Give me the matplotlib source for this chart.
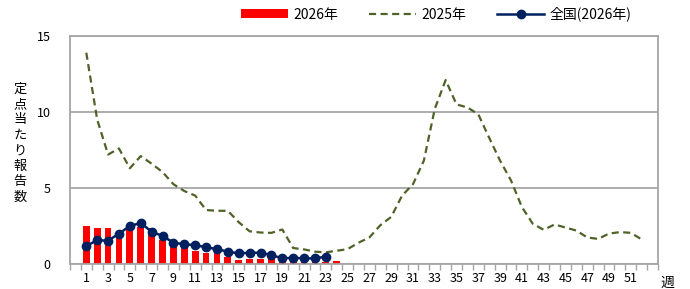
import numpy as np
import matplotlib
matplotlib.use('Agg')
import matplotlib.pyplot as plt
from matplotlib.ticker import FixedLocator

plt.rcParams['font.family'] = ['Noto Sans CJK JP', 'DejaVu Sans']

# 週
weeks_2025 = list(range(1, 53))
vals_2025 = [13.9, 9.5, 7.2, 7.6, 6.3, 7.1, 6.6, 6.05, 5.25, 4.8,
             4.5, 3.55, 3.5, 3.5, 2.75, 2.15, 2.07, 2.05, 2.27, 1.05,
             0.96, 0.81, 0.77, 0.87, 0.98, 1.4, 1.75, 2.55, 3.1, 4.5,
             5.25, 6.8, 10.2, 12.1, 10.5, 10.3, 9.85, 8.3, 6.8, 5.5,
             3.75, 2.65, 2.25, 2.6, 2.4, 2.2, 1.75, 1.65, 2.0, 2.1,
             2.05, 1.62]

weeks_bar = list(range(1, 25))
vals_bar = [2.5, 2.4, 2.4, 2.0, 2.35, 2.45, 2.4, 1.6, 1.25, 1.03,
            0.83, 0.74, 0.8, 0.48, 0.26, 0.33, 0.33, 0.41, 0.15, 0.15,
            0.1, 0.1, 0.15, 0.2]

weeks_nat = list(range(1, 24))
vals_nat = [1.18, 1.57, 1.53, 2.0, 2.5, 2.7, 2.12, 1.85, 1.4, 1.3,
            1.24, 1.1, 0.98, 0.81, 0.7, 0.74, 0.74, 0.59, 0.37, 0.41,
            0.37, 0.37, 0.48]

fig = plt.figure(figsize=(6.9, 2.89), dpi=100)
ax = fig.add_axes([0.1014, 0.0865, 0.8522, 0.7889])

grid_c = '#a6a6a6'
h_bar = ax.bar(weeks_bar, vals_bar, width=0.62, color='#ff0000', label='2026年', zorder=2)
h_25, = ax.plot(weeks_2025, vals_2025, color='#4f6228', lw=1.6, dashes=(3.2, 2),
                label='2025年', zorder=3)
h_nat, = ax.plot(weeks_nat, vals_nat, color='#002060', lw=1.8, marker='o', ms=6,
                 label='全国(2026年)', zorder=4)

ax.set_xlim(-0.5, 53.5)
ax.set_ylim(0, 15)
ax.set_yticks([0, 5, 10, 15])
ax.set_yticklabels(['0', '5', '10', '15'], fontsize=9)
ax.yaxis.grid(True, color=grid_c, lw=1.3)
ax.set_axisbelow(True)
ax.tick_params(axis='y', length=0, pad=14)

ax.xaxis.set_major_locator(FixedLocator(list(range(1, 53, 2))))
ax.set_xticklabels([str(w) for w in range(1, 53, 2)], fontsize=9)
ax.xaxis.set_minor_locator(FixedLocator(np.arange(-0.5, 54, 1)))
ax.tick_params(axis='x', which='major', length=0, pad=6)
ax.tick_params(axis='x', which='minor', length=4, color=grid_c, width=1)

for s in ax.spines.values():
    s.set_color(grid_c)
    s.set_linewidth(1.3)

fig.text(667 / 690, 1 - 283 / 289, '週', fontsize=10, ha='center', va='center')
fig.text(20 / 690, 1 - 143 / 289, '\n'.join('定点当たり報告数'), fontsize=9.5,
         ha='center', va='center', linespacing=1.25)

fig.legend([h_bar, h_25, h_nat], ['2026年', '2025年', '全国(2026年)'],
           loc='upper center', bbox_to_anchor=(0.632, 1.02), ncol=3, frameon=False,
           fontsize=10, handlelength=3.4, handleheight=0.6, columnspacing=2.2,
           handletextpad=0.4)

fig.savefig('out.png', dpi=100)
